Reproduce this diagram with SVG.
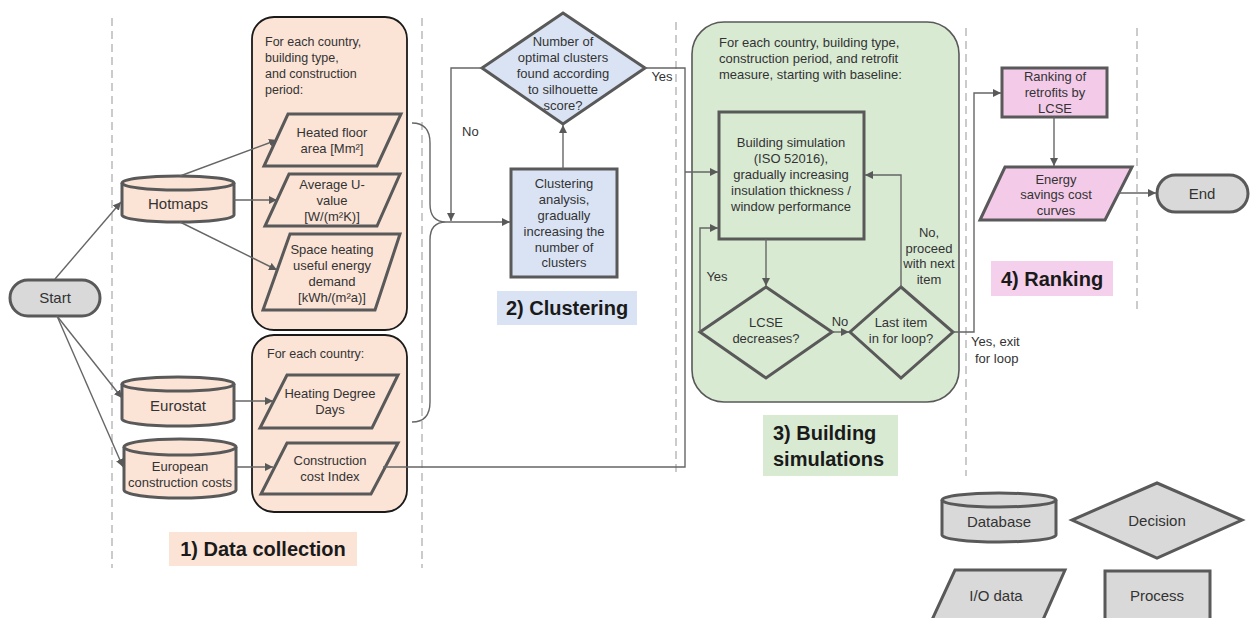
<svg xmlns="http://www.w3.org/2000/svg" width="1254" height="618" viewBox="0 0 1254 618">
<style>
  text { font-family: "Liberation Sans", Arial, sans-serif; fill: #333; }
  .t13 { font-size: 13px; }
  .t12 { font-size: 12.5px; }
  .t15 { font-size: 15px; }
  .c { text-anchor: middle; }
  .lbl { font-size: 20px; font-weight: bold; fill: #1a1a1a; }
  .dash { stroke: #bfbfbf; stroke-width: 1.6; stroke-dasharray: 8 5; fill: none; }
  .peach { fill: #fbe3d6; stroke: #595959; stroke-width: 3; }
  .cont { fill: #fbe3d6; stroke: #1a1a1a; stroke-width: 1.8; }
  .blue { fill: #dae3f3; stroke: #595959; stroke-width: 3; }
  .green { fill: #d9ead3; stroke: #595959; stroke-width: 3; }
  .greencont { fill: #d9ead3; stroke: #595959; stroke-width: 1.6; }
  .pink { fill: #f3cbe9; stroke: #595959; stroke-width: 3; }
  .gray { fill: #d9d9d9; stroke: #595959; stroke-width: 3; }
  .conn { stroke: #666; stroke-width: 1.4; fill: none; }
</style>
<defs>
  <marker id="ah" viewBox="0 0 10 10" refX="10" refY="5" markerWidth="8" markerHeight="8" markerUnits="userSpaceOnUse" orient="auto">
    <path d="M0,0 L10,5 L0,10 z" fill="#595959"/>
  </marker>
</defs>
<rect width="1254" height="618" fill="#ffffff"/>

<g id="lanes">
  <line class="dash" x1="112" y1="18" x2="112" y2="568"/>
  <line class="dash" x1="422" y1="18" x2="422" y2="568"/>
  <line class="dash" x1="676" y1="22" x2="676" y2="477"/>
  <line class="dash" x1="966" y1="28" x2="966" y2="476"/>
  <line class="dash" x1="1137" y1="28" x2="1137" y2="314"/>
</g>

<g id="container-data1">
  <rect class="cont" x="252" y="17" width="155" height="313" rx="22"/>
  <text class="t12" x="265"><tspan x="265" y="46">For each country,</tspan><tspan x="265" y="62">building type,</tspan><tspan x="265" y="78">and construction</tspan><tspan x="265" y="94">period:</tspan></text>
</g>
<g id="container-data2">
  <rect class="cont" x="252" y="335" width="155" height="177" rx="22"/>
  <text class="t12" x="267" y="358">For each country:</text>
</g>
<g id="container-sim">
  <rect class="greencont" x="692" y="22" width="267" height="380" rx="32"/>
  <text class="t13"><tspan x="719" y="47">For each country, building type,</tspan><tspan x="719" y="63">construction period, and retrofit</tspan><tspan x="719" y="79">measure, starting with baseline:</tspan></text>
</g>

<g id="start">
  <rect class="gray" x="10" y="280" width="90" height="36" rx="18"/>
  <text class="t15 c" x="55" y="303">Start</text>
</g>

<g id="hotmaps">
  <path class="peach" d="M122,183 A56,7 0 0 1 234,183 L234,215 A56,7 0 0 1 122,215 Z"/>
  <path class="peach" fill="none" d="M122,183 A56,7 0 0 0 234,183"/>
  <text class="t15 c" x="178" y="209">Hotmaps</text>
</g>
<g id="eurostat">
  <path class="peach" d="M122,384 A56,7 0 0 1 234,384 L234,419 A56,7 0 0 1 122,419 Z"/>
  <path class="peach" fill="none" d="M122,384 A56,7 0 0 0 234,384"/>
  <text class="t15 c" x="178" y="411">Eurostat</text>
</g>
<g id="european">
  <path class="peach" d="M124,447 A56,8 0 0 1 236,447 L236,490 A56,8 0 0 1 124,490 Z"/>
  <path class="peach" fill="none" d="M124,447 A56,8 0 0 0 236,447"/>
  <text class="t13 c"><tspan x="180" y="471">European</tspan><tspan x="180" y="487">construction costs</tspan></text>
</g>

<g id="heated-floor">
  <polygon class="peach" points="288,114 401,114 377,166 264,166"/>
  <text class="t13 c"><tspan x="332" y="137">Heated floor</tspan><tspan x="332" y="153">area [Mm²]</tspan></text>
</g>
<g id="u-value">
  <polygon class="peach" points="289,174 400,174 377,226 265,226"/>
  <text class="t13 c"><tspan x="332" y="189">Average U-</tspan><tspan x="332" y="205">value</tspan><tspan x="332" y="221">[W/(m²K)]</tspan></text>
</g>
<g id="space-heating">
  <polygon class="peach" points="290,234 400,234 375,310 263,310"/>
  <text class="t13 c"><tspan x="332" y="254">Space heating</tspan><tspan x="332" y="270">useful energy</tspan><tspan x="332" y="286">demand</tspan><tspan x="332" y="302">[kWh/(m²a)]</tspan></text>
</g>
<g id="hdd">
  <polygon class="peach" points="287,375 398,375 372,428 260,428"/>
  <text class="t13 c"><tspan x="330" y="398">Heating Degree</tspan><tspan x="330" y="414">Days</tspan></text>
</g>
<g id="cci">
  <polygon class="peach" points="287,443 398,443 371,494 261,494"/>
  <text class="t13 c"><tspan x="330" y="465">Construction</tspan><tspan x="330" y="481">cost Index</tspan></text>
</g>

<g id="label-data">
  <rect x="169" y="532" width="188" height="34" fill="#fbe3d6"/>
  <text class="lbl c" x="263" y="556">1) Data collection</text>
</g>

<g id="cluster-decision">
  <polygon class="blue" points="563,13 645,68 563,124 482,68"/>
  <text class="t13 c"><tspan x="563" y="46">Number of</tspan><tspan x="563" y="62">optimal clusters</tspan><tspan x="563" y="78">found according</tspan><tspan x="563" y="94">to silhouette</tspan><tspan x="563" y="110">score?</tspan></text>
</g>
<g id="cluster-analysis">
  <rect class="blue" x="511" y="169" width="106" height="108"/>
  <text class="t13 c"><tspan x="564" y="188">Clustering</tspan><tspan x="564" y="204">analysis,</tspan><tspan x="564" y="220">gradually</tspan><tspan x="564" y="236">increasing the</tspan><tspan x="564" y="252">number of</tspan><tspan x="564" y="267">clusters</tspan></text>
</g>
<g id="label-cluster">
  <rect x="497" y="291" width="140" height="34" fill="#dae3f3"/>
  <text class="lbl c" x="567" y="315">2) Clustering</text>
</g>

<g id="building-sim">
  <rect class="green" x="719" y="112" width="145" height="127"/>
  <text class="t13 c"><tspan x="791" y="147">Building simulation</tspan><tspan x="791" y="163">(ISO 52016),</tspan><tspan x="791" y="179">gradually increasing</tspan><tspan x="791" y="195">insulation thickness /</tspan><tspan x="791" y="211">window performance</tspan></text>
</g>
<g id="lcse-decision">
  <polygon class="green" points="766,287 832,332 766,378 700,332"/>
  <text class="t13 c"><tspan x="766" y="327">LCSE</tspan><tspan x="766" y="343">decreases?</tspan></text>
</g>
<g id="last-item">
  <polygon class="green" points="901,287 953,332 901,378 850,332"/>
  <text class="t13 c"><tspan x="901" y="327">Last item</tspan><tspan x="901" y="343">in for loop?</tspan></text>
</g>
<g id="label-sim">
  <rect x="763" y="415" width="135" height="61" fill="#d9ead3"/>
  <text class="lbl"><tspan x="773" y="440">3) Building</tspan><tspan x="773" y="466">simulations</tspan></text>
</g>

<g id="ranking">
  <rect class="pink" x="1002" y="68" width="105" height="49"/>
  <text class="t13 c"><tspan x="1055" y="81">Ranking of</tspan><tspan x="1055" y="97">retrofits by</tspan><tspan x="1055" y="113">LCSE</tspan></text>
</g>
<g id="cost-curves">
  <polygon class="pink" points="1005,167 1132,167 1105,220 980,220"/>
  <text class="t13 c"><tspan x="1056" y="184">Energy</tspan><tspan x="1056" y="199">savings cost</tspan><tspan x="1056" y="215">curves</tspan></text>
</g>
<g id="end">
  <rect class="gray" x="1157" y="175" width="91" height="37" rx="18.5"/>
  <text class="t15 c" x="1202" y="199">End</text>
</g>
<g id="label-rank">
  <rect x="991" y="261" width="122" height="35" fill="#f5d0ec"/>
  <text class="lbl c" x="1052" y="286">4) Ranking</text>
</g>

<g id="legend-database">
  <path class="gray" d="M942,500 A57,7 0 0 1 1056,500 L1056,535 A57,7 0 0 1 942,535 Z"/>
  <path class="gray" fill="none" d="M942,500 A57,7 0 0 0 1056,500"/>
  <text class="t15 c" x="999" y="527">Database</text>
</g>
<g id="legend-decision">
  <polygon class="gray" points="1157,483 1242,520 1157,558 1072,520"/>
  <text class="t15 c" x="1157" y="526">Decision</text>
</g>
<g id="legend-io">
  <polygon class="gray" points="955,570 1065,570 1042,622 931,622"/>
  <text class="t15 c" x="996" y="601">I/O data</text>
</g>
<g id="legend-process">
  <rect class="gray" x="1105" y="571" width="105" height="60"/>
  <text class="t15 c" x="1157" y="601">Process</text>
</g>

<g id="connectors">
  <line class="conn" x1="55" y1="279" x2="121" y2="202" marker-end="url(#ah)"/>
  <line class="conn" x1="57" y1="316" x2="122" y2="398" marker-end="url(#ah)"/>
  <line class="conn" x1="57" y1="316" x2="123" y2="467" marker-end="url(#ah)"/>
  <line class="conn" x1="180" y1="176" x2="277" y2="140" marker-end="url(#ah)"/>
  <line class="conn" x1="234" y1="200" x2="277" y2="200" marker-end="url(#ah)"/>
  <line class="conn" x1="180" y1="222" x2="277" y2="270" marker-end="url(#ah)"/>
  <line class="conn" x1="234" y1="401" x2="273" y2="401" marker-end="url(#ah)"/>
  <line class="conn" x1="236" y1="467" x2="273" y2="467" marker-end="url(#ah)"/>
  <path class="conn" d="M412,123 Q430,123 430,143 L430,204 Q430,222 446,222 Q430,222 430,240 L430,402 Q430,422 412,422"/>
  <line class="conn" x1="446" y1="222" x2="510" y2="222" marker-end="url(#ah)"/>
  <path class="conn" d="M482,68 L451,68 L451,221" marker-end="url(#ah)"/>
  <text class="t13" x="462" y="136">No</text>
  <line class="conn" x1="563" y1="169" x2="563" y2="125" marker-end="url(#ah)"/>
  <path class="conn" d="M645,68 L685,68 L685,467 L383,467"/>
  <text class="t13 c" x="662" y="81">Yes</text>
  <line class="conn" x1="685" y1="172" x2="718" y2="172" marker-end="url(#ah)"/>
  <line class="conn" x1="766" y1="239" x2="766" y2="286" marker-end="url(#ah)"/>
  <path class="conn" d="M700,332 L700,228 L718,228" marker-end="url(#ah)"/>
  <text class="t13 c" x="717" y="281">Yes</text>
  <line class="conn" x1="832" y1="332" x2="849" y2="332" marker-end="url(#ah)"/>
  <text class="t13 c" x="840" y="326">No</text>
  <path class="conn" d="M901,287 L901,175 L865,175" marker-end="url(#ah)"/>
  <text class="t13 c"><tspan x="929" y="237">No,</tspan><tspan x="929" y="253">proceed</tspan><tspan x="929" y="268">with next</tspan><tspan x="929" y="284">item</tspan></text>
  <path class="conn" d="M953,332 L974,332 L974,93 L1001,93" marker-end="url(#ah)"/>
  <text class="t13"><tspan x="971" y="346">Yes, exit</tspan><tspan x="975" y="363">for loop</tspan></text>
  <line class="conn" x1="1054" y1="117" x2="1054" y2="166" marker-end="url(#ah)"/>
  <line class="conn" x1="1118" y1="193" x2="1156" y2="193" marker-end="url(#ah)"/>
</g>
</svg>
